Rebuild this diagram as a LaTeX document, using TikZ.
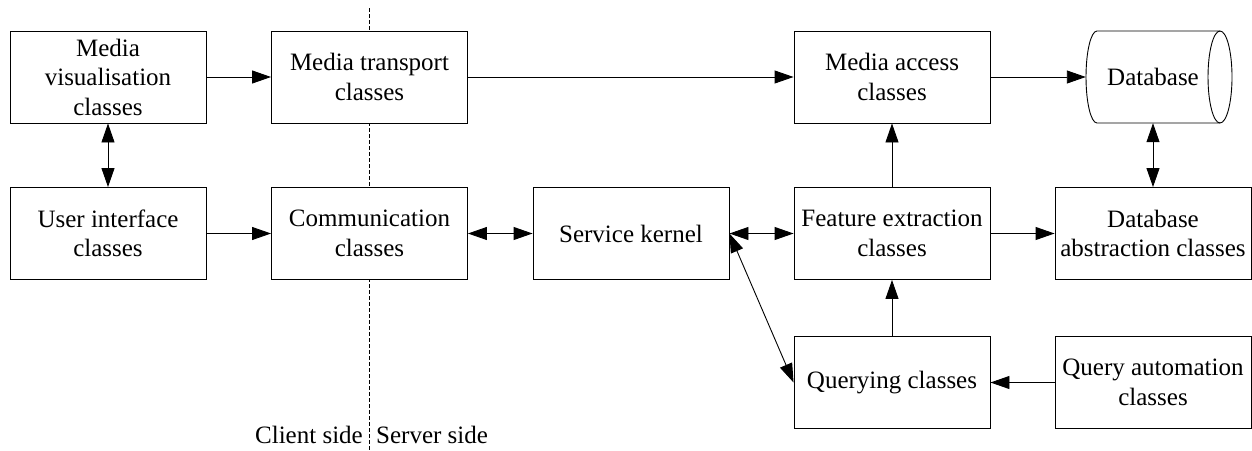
\documentclass[tikz,border=0pt]{standalone}
\usepackage{fontspec}
\setmainfont{Liberation Serif}
\usetikzlibrary{arrows.meta}
\begin{document}
\begin{tikzpicture}[x=1pt,y=-1pt,
  box/.style={draw, line width=0.9pt, fill=white, minimum width=196pt, minimum height=92pt,
    align=center, inner sep=2pt, font=\fontsize{25}{29.5}\selectfont},
  conn/.style={line width=0.9pt, -{Triangle[length=19pt,width=13pt]}},
  bi/.style={line width=0.9pt, {Triangle[length=19pt,width=13pt]}-{Triangle[length=19pt,width=13pt]}},
  lbl/.style={font=\fontsize{25}{29.5}\selectfont, inner sep=0pt},
  divider/.style={line width=0.9pt, dash pattern=on 4pt off 2pt}]
\useasboundingbox (0,0) rectangle (1252,450);
\coordinate (dtop) at (369,8);
\coordinate (dbot) at (369,450);
\draw[divider] (dtop) -- (dbot);

\node[box] (mv) at (108,77) {Media\\visualisation\\classes};
\node[box] (mt) at (369.5,77) {Media transport\\classes};
\node[box] (ma) at (892,77) {Media access\\classes};

\draw[line width=0.9pt, fill=white] (1097,31) -- (1220,31)
  arc[start angle=90, end angle=-90, x radius=12pt, y radius=46pt]
  -- (1097,123)
  arc[start angle=270, end angle=90, x radius=11pt, y radius=46pt] -- cycle;
\draw[line width=0.9pt] (1220,31) arc[start angle=90, end angle=270, x radius=12pt, y radius=46pt];
\node[lbl, minimum width=134pt, minimum height=92pt] (db) at (1153,77) {Database};

\node[box] (ui) at (108,233.5) {User interface\\classes};
\node[box] (cc) at (369.5,233.5) {Communication\\classes};
\node[box] (sk) at (631,233.5) {Service kernel};
\node[box] (fe) at (892,233.5) {Feature extraction\\classes};
\node[box] (da) at (1153,233.5) {Database\\abstraction classes};

\node[box] (qc) at (892,382.5) {Querying classes};
\node[box] (qa) at (1153,382.5) {Query automation\\classes};

\draw[conn] (mv) -- (mt);
\draw[conn] (mt) -- (ma);
\draw[conn] (ma) -- (db);
\draw[bi] (mv) -- (ui);
\draw[conn] (ui) -- (cc);
\draw[bi] (cc) -- (sk);
\draw[bi] (sk) -- (fe);
\draw[conn] (fe) -- (ma);
\draw[conn] (fe) -- (da);
\draw[bi] (db) -- (da);
\draw[bi] (sk.east) -- (qc.west);
\draw[conn] (qc) -- (fe);
\draw[conn] (qa) -- (qc);

\node[lbl, anchor=base east] (cs) at (363,443) {Client side};
\node[lbl, anchor=base west] (ss) at (376,443) {Server side};
\end{tikzpicture}
\end{document}
